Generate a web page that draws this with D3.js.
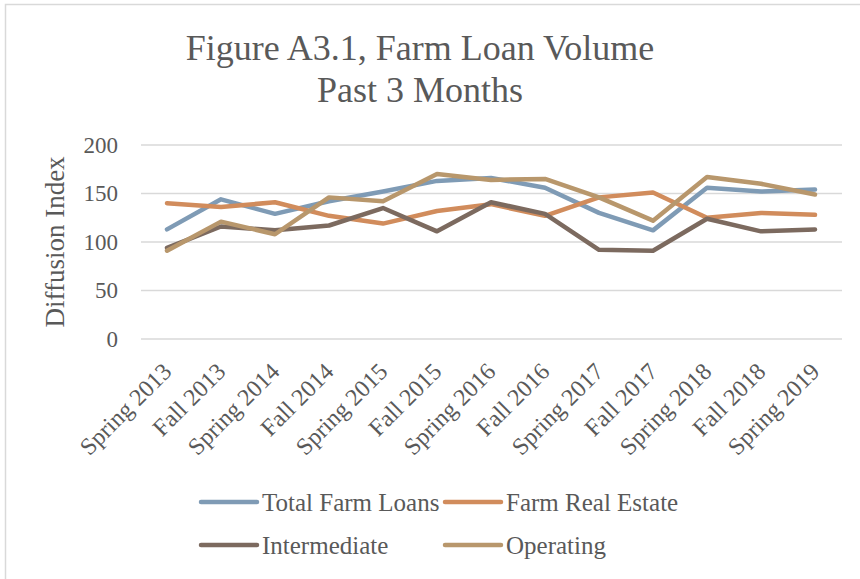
<!DOCTYPE html>
<html lang="en">
<head>
  <meta charset="UTF-8">
  <title>Figure A3.1, Farm Loan Volume</title>
  <style>
    body { margin: 0; background: #fff; }
    svg text { font-family: 'Liberation Serif', 'Times New Roman', serif; fill: #595959; }
  </style>
</head>
<body>
  <div id="chart"></div>
  <script src="https://d3js.org/d3.v7.min.js"></script>
  <script>
    var categories = ['Spring 2013', 'Fall 2013', 'Spring 2014', 'Fall 2014', 'Spring 2015', 'Fall 2015',
      'Spring 2016', 'Fall 2016', 'Spring 2017', 'Fall 2017', 'Spring 2018', 'Fall 2018', 'Spring 2019']
    var totalFarmLoans = [113, 144, 129, 142, 152, 163, 166, 156, 130, 112, 156, 152, 154]
    var farmRealEstate = [140, 136, 141, 127, 119, 132, 139, 127, 146, 151, 125, 130, 128]
    var intermediate = [94, 116, 112, 117, 135, 111, 141, 129, 92, 91, 124, 111, 113]
    var operating = [91, 121, 108, 146, 142, 170, 164, 165, 146, 122, 167, 160, 149]
    var yTicks = [0, 50, 100, 150, 200]

    var series = [
      {name: 'Total Farm Loans', values: totalFarmLoans, color: '#7F9BB5'},
      {name: 'Farm Real Estate', values: farmRealEstate, color: '#D18C5C'},
      {name: 'Intermediate', values: intermediate, color: '#7C6A5F'},
      {name: 'Operating', values: operating, color: '#B8976C'}
    ]

    var width = 860    // canvas width
    var height = 579   // canvas height

    var svg = d3.select('#chart')
      .append('svg')
      .attr('width', width)
      .attr('height', height)

    // chart border (only top and left show in the frame)
    svg.append('rect')
      .attr('x', 5.5)
      .attr('y', 4.5)
      .attr('width', width + 20)
      .attr('height', height + 20)
      .attr('fill', 'none')
      .attr('stroke', '#D9D9D9')
      .attr('stroke-width', 1.5)

    // title
    svg.append('text')
      .attr('x', 420)
      .attr('y', 60)
      .attr('text-anchor', 'middle')
      .attr('font-size', 36)
      .selectAll('tspan')
      .data(['Figure A3.1, Farm Loan Volume', 'Past 3 Months'])
      .enter().append('tspan')
      .attr('x', 420)
      .attr('dy', function(d, i) { return i === 0 ? 0 : 42 })
      .text(function(d) { return d })

    var x = d3.scalePoint().domain(categories).range([140, 842]).padding(0.5)
    var y = d3.scaleLinear().domain([0, 200]).range([339, 145])

    // gridlines
    svg.append('g')
      .selectAll('line')
      .data(yTicks)
      .enter().append('line')
      .attr('x1', 141)
      .attr('x2', 842)
      .attr('y1', function(d) { return y(d) })
      .attr('y2', function(d) { return y(d) })
      .attr('stroke', '#D9D9D9')
      .attr('stroke-width', 1.5)

    // y axis labels
    var yAxis = svg.append('g')
      .attr('transform', 'translate(118,0)')
      .call(d3.axisLeft(y).tickValues(yTicks).tickSize(0).tickPadding(0))
    yAxis.select('.domain').remove()
    yAxis.selectAll('text')
      .attr('font-size', 23)
      .attr('font-family', null)
      .attr('fill', '#595959')

    svg.append('text')
      .attr('transform', 'translate(64,' + y(100) + ') rotate(-90)')
      .attr('text-anchor', 'middle')
      .attr('font-size', 27)
      .text('Diffusion Index')

    // x axis labels, rotated
    svg.append('g')
      .selectAll('text')
      .data(categories)
      .enter().append('text')
      .attr('transform', function(d) { return 'translate(' + x(d) + ',367) rotate(-45)' })
      .attr('text-anchor', 'end')
      .attr('dy', '0.35em')
      .attr('font-size', 24)
      .text(function(d) { return d })

    // lines
    var line = d3.line()
      .x(function(d, i) { return x(categories[i]) })
      .y(function(d) { return y(d) })

    svg.append('g')
      .selectAll('path')
      .data(series)
      .enter().append('path')
      .attr('d', function(d) { return line(d.values) })
      .attr('fill', 'none')
      .attr('stroke', function(d) { return d.color })
      .attr('stroke-width', 4.5)
      .attr('stroke-linecap', 'round')
      .attr('stroke-linejoin', 'round')

    // legend
    var legend = svg.append('g')
      .selectAll('g')
      .data(series)
      .enter().append('g')
      .attr('transform', function(d, i) {
        return 'translate(' + (i % 2 === 0 ? 201 : 445) + ',' + (i < 2 ? 502 : 545) + ')'
      })
    legend.append('line')
      .attr('x1', 0)
      .attr('x2', 56)
      .attr('stroke', function(d) { return d.color })
      .attr('stroke-width', 4.5)
      .attr('stroke-linecap', 'round')
    legend.append('text')
      .attr('x', 61)
      .attr('dy', '0.35em')
      .attr('font-size', 25)
      .text(function(d) { return d.name })
  </script>
</body>
</html>
